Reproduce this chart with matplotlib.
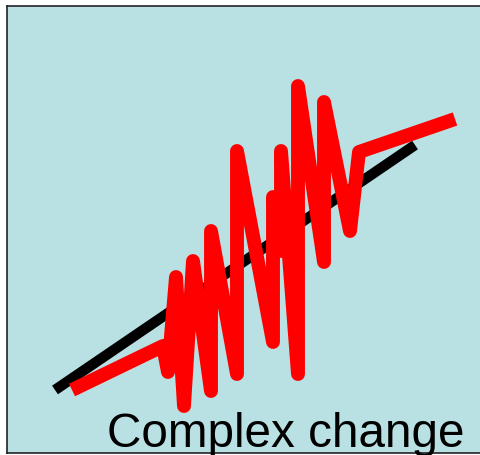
import matplotlib
matplotlib.use("Agg")
import matplotlib.pyplot as plt

# straight trend line (two end points)
trend_x = [48, 408]
trend_y = [63, 308]

# jagged "complex change" path
red_x = [65, 156, 161, 169, 177, 186, 204, 204, 230, 230, 266, 266, 274, 274,
         291, 291, 317, 317, 343, 352, 448]
red_y = [63, 107, 81, 176, 47, 192, 62, 222, 79, 302, 111, 256, 202, 302,
         79, 367, 191, 351, 222, 301, 334]

label = "Complex change"

fig = plt.figure(figsize=(4.81, 4.56), dpi=100)
ax = fig.add_axes([7 / 481, 2 / 456, 480 / 481, 447 / 456])
ax.set_facecolor("#b9e0e3")
ax.set_xlim(0, 480)
ax.set_ylim(0, 447)
ax.set_xticks([])
ax.set_yticks([])
for s in ax.spines.values():
    s.set_linewidth(1.2)
    s.set_color("#222222")

ax.plot(trend_x, trend_y, color="black", lw=7.5, solid_capstyle="butt")
ax.plot(red_x, red_y, color="#ff0000", lw=10, solid_capstyle="butt",
        solid_joinstyle="round")

fig.text(465 / 481, 1 - 447 / 456, label, ha="right", va="baseline",
         fontsize=34.3, family="Liberation Sans", color="black")

fig.savefig("out.png", dpi=100)
